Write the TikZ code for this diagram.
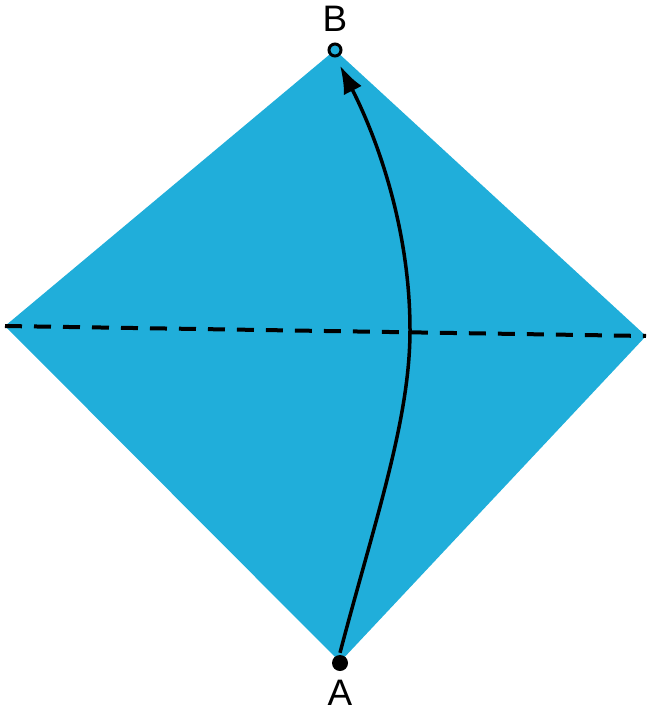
\documentclass[tikz,border=0pt]{standalone}
\usepackage{fontspec}
\setmainfont{Liberation Sans}
\usetikzlibrary{arrows.meta}
\definecolor{paper}{RGB}{32,174,218}
\tikzset{
  lbl/.style={font=\fontsize{37}{37}\selectfont, inner sep=0pt},
  fold/.style={line width=4bp, dash pattern=on 17bp off 12bp},
  move/.style={line width=3.5bp, -{Latex[length=28bp,width=20bp]}},
}
\begin{document}
\begin{tikzpicture}[x=1bp,y=-1bp]
\useasboundingbox (0,0) rectangle (647,713);
\coordinate (T) at (335,50);
\coordinate (Bo) at (340,662);
\coordinate (L) at (5,326);
\coordinate (R) at (646,336);
\fill[paper] (T) -- (R) -- (Bo) -- (L) -- cycle;
\draw[fold] (L) -- (R);
\node[circle, fill=black, minimum size=16bp, inner sep=0pt] (A) at (340,663) {};
\node[circle, draw=black, fill=paper, line width=3bp, minimum size=12bp, inner sep=0pt] (B) at (335,50) {};
\node[lbl] (labA) at (340,693) {A};
\node[lbl] (labB) at (335,19) {B};
\coordinate (mid) at (410,330);
\draw[move] ([yshift=2bp]A.north) .. controls (375,520) and (410,420) .. (mid)
  .. controls (410,230) and (378,140) .. ([shift={(5bp,-8bp)}]B.south);
\end{tikzpicture}
\end{document}
